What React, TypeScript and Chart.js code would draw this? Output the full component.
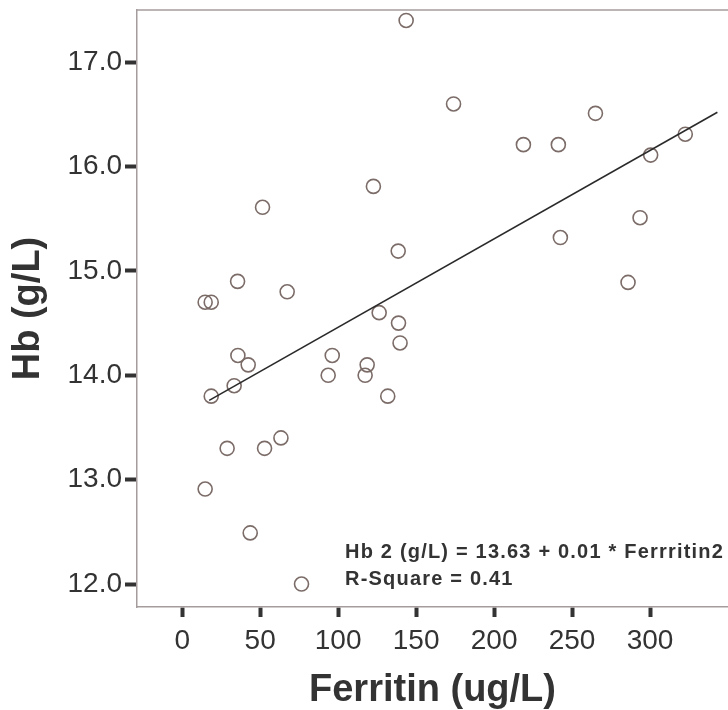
import React, { useEffect, useRef } from 'react';
import { Chart, registerables } from 'chart.js';

Chart.register(...registerables);

// Data
const ferritin = [143.6, 174, 122.6, 51.5, 218.8, 241.2, 265, 322.6, 300.4, 293.6, 242.5, 285.9, 138.5, 35.5, 67.3, 14.7, 18.6, 126.3, 138.7, 139.7, 35.7, 42.3, 96.2, 93.6, 118.6, 117.3, 33.3, 18.6, 131.8, 28.8, 52.8, 63.3, 14.7, 43.6, 76.5];
const hb = [17.4, 16.6, 15.81, 15.61, 16.21, 16.21, 16.51, 16.31, 16.11, 15.51, 15.32, 14.89, 15.19, 14.9, 14.8, 14.7, 14.7, 14.6, 14.5, 14.31, 14.19, 14.1, 14.19, 14.0, 14.1, 14.0, 13.9, 13.8, 13.8, 13.3, 13.3, 13.4, 12.91, 12.49, 12.0];

const fitX = [17.3, 343.2];
const fitY = [13.76, 16.52];

const xTicks = [0, 50, 100, 150, 200, 250, 300];
const yTicks = [12, 13, 14, 15, 16, 17];
const yTickLabels = ['12.0', '13.0', '14.0', '15.0', '16.0', '17.0'];

const xTitle = 'Ferritin (ug/L)';
const yTitle = 'Hb (g/L)';
const annotationLines = ['Hb 2 (g/L) = 13.63 + 0.01 * Ferrritin2', 'R-Square = 0.41'];

const FONT = '"Liberation Sans", Arial, Helvetica, sans-serif';
const TEXT = '#333333';
const FRAME = '#a59d9d';

const framePlugin = {
  id: 'frameTop',
  afterDraw(chart: any) {
    const { ctx, chartArea } = chart;
    ctx.save();
    ctx.strokeStyle = FRAME;
    ctx.lineWidth = 1.5;
    ctx.beginPath();
    ctx.moveTo(chartArea.left, chartArea.top);
    ctx.lineTo(chartArea.right, chartArea.top);
    ctx.stroke();
    ctx.restore();
  },
};

const annotationPlugin = {
  id: 'fitAnnotation',
  afterDraw(chart: any) {
    const { ctx, chartArea } = chart;
    ctx.save();
    ctx.fillStyle = TEXT;
    ctx.font = `bold 20px ${FONT}`;
    (ctx as any).letterSpacing = '1.2px';
    ctx.textAlign = 'left';
    ctx.textBaseline = 'alphabetic';
    const x = chartArea.left + 208;
    ctx.fillText(annotationLines[0], x, chartArea.bottom - 49);
    ctx.fillText(annotationLines[1], x, chartArea.bottom - 22);
    ctx.restore();
  },
};

export default function App() {
  const ref = useRef<HTMLCanvasElement | null>(null);

  useEffect(() => {
    if (!ref.current) return;
    const points = ferritin.map((x, i) => ({ x, y: hb[i] }));
    const fit = fitX.map((x, i) => ({ x, y: fitY[i] }));

    const chart = new Chart(ref.current, {
      type: 'scatter',
      data: {
        datasets: [
          {
            type: 'line',
            label: 'fit',
            data: fit,
            borderColor: '#2a2a2a',
            borderWidth: 1.6,
            pointRadius: 0,
            fill: false,
            order: 1,
          } as any,
          {
            type: 'scatter',
            label: 'Hb',
            data: points,
            pointStyle: 'circle',
            pointRadius: 7,
            borderWidth: 1.6,
            borderColor: '#7b6c68',
            backgroundColor: 'rgba(0,0,0,0)',
            order: 2,
          },
        ],
      },
      options: {
        responsive: false,
        animation: false,
        devicePixelRatio: 1,
        events: [],
        layout: { autoPadding: false, padding: { top: 10, right: 0, left: 0, bottom: 0 } },
        plugins: {
          legend: { display: false },
          tooltip: { enabled: false },
        },
        scales: {
          x: {
            type: 'linear',
            position: 'bottom',
            min: -29,
            max: 350,
            afterBuildTicks: (axis: any) => {
              axis.ticks = xTicks.map((v) => ({ value: v }));
            },
            afterFit: (axis: any) => {
              axis.height = 103;
              axis.paddingLeft = 0;
              axis.paddingRight = 0;
              axis.paddingTop = 0;
              axis.paddingBottom = 0;
            },
            border: { display: true, color: FRAME, width: 1.5 },
            grid: {
              drawOnChartArea: false,
              drawTicks: true,
              tickLength: 10,
              tickWidth: 4,
              tickColor: TEXT,
            },
            ticks: {
              color: TEXT,
              padding: 7,
              maxRotation: 0,
              autoSkip: false,
              font: { family: FONT, size: 28 },
              callback: (v: any) => String(v),
            },
            title: {
              display: true,
              text: xTitle,
              color: TEXT,
              font: { family: FONT, size: 38, weight: 'bold' },
              padding: { top: 0, bottom: -3 },
            },
          },
          y: {
            type: 'linear',
            position: 'left',
            min: 11.78,
            max: 17.5,
            afterBuildTicks: (axis: any) => {
              axis.ticks = yTicks.map((v) => ({ value: v }));
            },
            afterFit: (axis: any) => {
              axis.width = 137;
              axis.paddingLeft = 0;
              axis.paddingRight = 0;
              axis.paddingTop = 0;
              axis.paddingBottom = 0;
            },
            border: { display: true, color: FRAME, width: 1.5 },
            grid: {
              drawOnChartArea: false,
              drawTicks: true,
              tickLength: 12,
              tickWidth: 4,
              tickColor: TEXT,
            },
            ticks: {
              color: TEXT,
              padding: 3,
              autoSkip: false,
              font: { family: FONT, size: 28 },
              callback: (v: any) => {
                const i = yTicks.indexOf(Number(v));
                return i >= 0 ? yTickLabels[i] : '';
              },
            },
            title: {
              display: true,
              text: yTitle,
              color: TEXT,
              font: { family: FONT, size: 38, weight: 'bold' },
              padding: { top: 6, bottom: 0 },
            },
          },
        },
      },
      plugins: [framePlugin, annotationPlugin],
    } as any);

    return () => chart.destroy();
  }, []);

  return (
    <div style={{ position: 'fixed', left: 0, top: 0, width: 728, height: 710, background: '#fff' }}>
      <canvas ref={ref} width={728} height={710} style={{ width: 728, height: 710, display: 'block' }} />
    </div>
  );
}
